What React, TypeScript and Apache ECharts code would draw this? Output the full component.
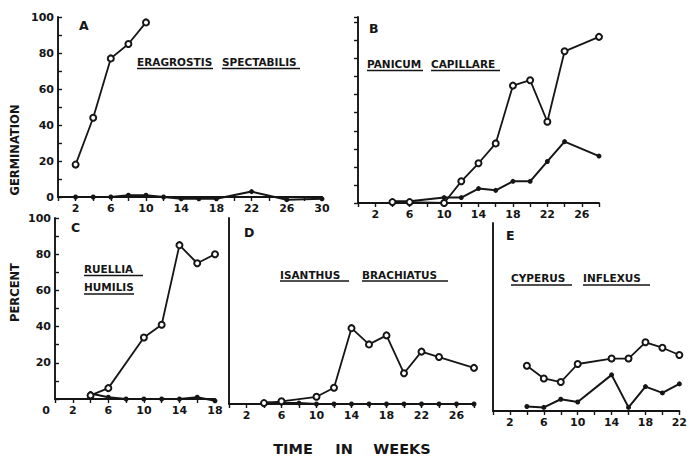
import React, { useEffect, useRef } from "react";
import * as echarts from "echarts";

// Panel A – Eragrostis spectabilis
const weeksAOpen = [2, 4, 6, 8, 10];
const openA = [18, 44, 77, 85, 97];
const weeksAClosed = [2, 4, 6, 8, 10, 12, 14, 16, 18, 22, 26, 30];
const closedA = [0, 0, 0, 1, 1, 0, -1, -1, -1, 3, -1.5, -1];

// Panel B – Panicum capillare
const weeksB = [4, 6, 10, 12, 14, 16, 18, 20, 22, 24, 28];
const openB = [0.5, 0.5, 0, 12, 22, 33, 65, 68, 45, 84, 92];
const closedB = [1, 1, 3, 3, 8, 7, 12, 12, 23, 34, 26];

// Panel C – Ruellia humilis
const weeksCOpen = [4, 6, 10, 12, 14, 16, 18];
const openC = [2, 6, 34, 41, 85, 75, 80];
const weeksCClosed = [4, 6, 8, 10, 12, 14, 16, 18];
const closedC = [3, 1, 0, 0, 0, 0, 1, -1];

// Panel D – Isanthus brachiatus
const weeksDOpen = [4, 6, 10, 12, 14, 16, 18, 20, 22, 24, 28];
const openD = [0.5, 1.5, 4, 9, 42, 33, 38, 17, 29, 26, 20];
const weeksDClosed = [4, 6, 8, 10, 12, 14, 16, 18, 20, 22, 24, 26, 28];
const closedD = [1, 0.5, 0.5, 0, 0, 0, 0, 0, 0, 0, 0, 0, 0];

// Panel E – Cyperus inflexus
const weeksE = [4, 6, 8, 10, 14, 16, 18, 20, 22];
const openE = [25, 18, 16, 26, 29, 29, 38, 35, 31];
const closedE = [2.5, 2, 6.5, 5, 20, 2, 13.5, 10, 15];

const zip = (xs: number[], ys: number[]) => xs.map((x, i) => [x, ys[i]]);

const INK = "#151515";
const FONT = "DejaVu Sans";

export default function App() {
  const ref = useRef<HTMLDivElement>(null);
  useEffect(() => {
    const chart = echarts.init(ref.current!, null, { renderer: "svg" });

    const grids = [
      { left: 58, top: 17, width: 264, height: 180 },
      { left: 358, top: 17, width: 241, height: 186 },
      { left: 55, top: 218, width: 160, height: 181 },
      { left: 229, top: 218, width: 245, height: 186 },
      { left: 493, top: 223, width: 193, height: 188 },
    ];
    const xMax = [30, 28, 18, 28, 22];
    const yMax = [100, 103, 100, 103, 104];

    const xAxis = grids.map((_, i) => ({
      type: "value",
      gridIndex: i,
      min: 0,
      max: xMax[i],
      interval: 2,
      splitLine: { show: false },
      axisLine: { show: true, lineStyle: { color: INK, width: 1.9 } },
      axisTick: { show: true, inside: false, length: 4, lineStyle: { color: INK, width: 1.4 } },
      axisLabel: {
        show: true,
        margin: 6,
        color: INK,
        fontFamily: FONT,
        fontWeight: "bold",
        fontSize: 11,
        showMinLabel: true,
        showMaxLabel: true,
        formatter: (v: number) => {
          if (i === 2 && v === 0) return "{z|0}";
          return (v - 2) % 4 === 0 ? String(v) : "";
        },
        rich: { z: { padding: [0, 18, 0, 0], fontFamily: FONT, fontWeight: "bold", fontSize: 11, color: INK } },
      },
    }));

    const yAxis = grids.map((_, i) => {
      const labelled = i === 0 || i === 2;
      return {
        type: "value",
        gridIndex: i,
        min: 0,
        max: yMax[i],
        interval: 10,
        splitLine: { show: false },
        axisLine: { show: true, lineStyle: { color: INK, width: 1.9 } },
        axisTick: {
          show: i <= 2,
          inside: labelled,
          length: 4,
          lineStyle: { color: INK, width: 1.4 },
        },
        axisLabel: {
          show: labelled,
          margin: 4,
          color: INK,
          fontFamily: FONT,
          fontWeight: "bold",
          fontSize: 11,
          formatter: (v: number) => {
            if (v % 20 !== 0) return "";
            if (i === 2 && v === 0) return "";
            return String(v);
          },
        },
      };
    });

    const openSeries = (xs: number[], ys: number[], idx: number) => ({
      type: "line",
      xAxisIndex: idx,
      yAxisIndex: idx,
      data: zip(xs, ys),
      clip: false,
      symbol: "emptyCircle",
      symbolSize: 6,
      lineStyle: { color: INK, width: 1.8 },
      itemStyle: { color: INK, borderColor: INK, borderWidth: 1.3 },
      z: 3,
    });
    const closedSeries = (xs: number[], ys: number[], idx: number) => ({
      type: "line",
      xAxisIndex: idx,
      yAxisIndex: idx,
      data: zip(xs, ys),
      clip: false,
      symbol: "circle",
      symbolSize: 5,
      lineStyle: { color: INK, width: 2 },
      itemStyle: { color: INK },
      z: 2,
    });

    const txt = (text: string, x: number, y: number, size: number, align = "left") => ({
      type: "text",
      x,
      y,
      style: {
        text,
        fill: INK,
        font: `bold ${size}px "${FONT}"`,
        align,
        verticalAlign: "middle",
      },
    });
    const uline = (x1: number, x2: number, y: number) => ({
      type: "line",
      shape: { x1, y1: y, x2, y2: y },
      style: { stroke: INK, lineWidth: 1.5 },
    });

    const graphic: any[] = [
      txt("A", 79, 25, 12.5),
      txt("B", 369, 28, 12.5),
      txt("C", 71, 227, 12.5),
      txt("D", 244, 232, 12.5),
      txt("E", 506, 235, 12.5),
      txt("ERAGROSTIS", 137, 62, 10.5),
      uline(137, 213, 68.5),
      txt("SPECTABILIS", 222, 62, 10.5),
      uline(222, 300, 68.5),
      txt("PANICUM", 367, 63.5, 10.5),
      uline(367, 423, 70.5),
      txt("CAPILLARE", 431, 63.5, 10.5),
      uline(431, 500, 70.5),
      txt("RUELLIA", 84, 268.5, 10.5),
      uline(84, 143, 275.5),
      txt("HUMILIS", 84, 287, 10.5),
      uline(84, 134, 294),
      txt("ISANTHUS", 280, 274.5, 10.5),
      uline(280, 349, 281),
      txt("BRACHIATUS", 362, 274.5, 10.5),
      uline(362, 448, 281),
      txt("CYPERUS", 511, 278, 10.5),
      uline(511, 572, 285),
      txt("INFLEXUS", 583, 278, 10.5),
      uline(583, 650, 285),
      {
        type: "text",
        x: 15,
        y: 292.5,
        rotation: Math.PI / 2,
        style: { text: "PERCENT", fill: INK, font: `bold 11.5px "${FONT}"`, align: "center", verticalAlign: "middle" },
      },
      {
        type: "text",
        x: 15,
        y: 150,
        rotation: Math.PI / 2,
        style: { text: "GERMINATION", fill: INK, font: `bold 11.5px "${FONT}"`, align: "center", verticalAlign: "middle" },
      },
      txt("TIME", 293, 449, 14.5, "center"),
      txt("IN", 344, 449, 14.5, "center"),
      txt("WEEKS", 402, 449, 14.5, "center"),
    ];

    chart.setOption({
      animation: false,
      backgroundColor: "#ffffff",
      grid: grids.map((g) => ({ ...g, containLabel: false })),
      xAxis,
      yAxis,
      series: [
        openSeries(weeksAOpen, openA, 0),
        closedSeries(weeksAClosed, closedA, 0),
        openSeries(weeksB, openB, 1),
        closedSeries(weeksB, closedB, 1),
        openSeries(weeksCOpen, openC, 2),
        closedSeries(weeksCClosed, closedC, 2),
        openSeries(weeksDOpen, openD, 3),
        closedSeries(weeksDClosed, closedD, 3),
        openSeries(weeksE, openE, 4),
        closedSeries(weeksE, closedE, 4),
      ],
      graphic,
    } as any);

    return () => chart.dispose();
  }, []);

  return (
    <div
      ref={ref}
      style={{ position: "fixed", left: 0, top: 0, width: 690, height: 457, background: "#fff" }}
    />
  );
}
